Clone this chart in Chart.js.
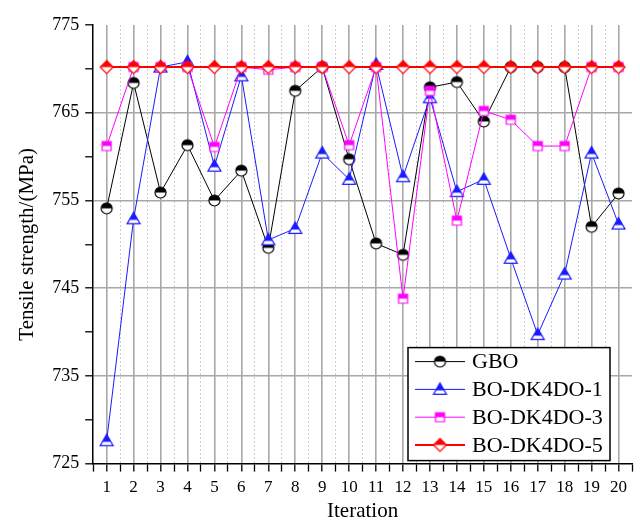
<!DOCTYPE html>
<html>
<head>
<meta charset="utf-8">
<script src="https://cdn.jsdelivr.net/npm/chart.js@4/dist/chart.umd.min.js"></script>
<style>
  body { margin: 0; background: #fff; }
  #wrap { width: 640px; height: 523px; }
</style>
</head>
<body>
<div id="wrap"><canvas id="chart" width="640" height="523"></canvas></div>
<script>
// Iterations on the x axis
const iterations = [1, 2, 3, 4, 5, 6, 7, 8, 9, 10, 11, 12, 13, 14, 15, 16, 17, 18, 19, 20];

// Tensile strength (MPa) per method
const gbo   = [754.1, 768.4, 755.9, 761.3, 755.0, 758.4, 749.6, 767.5, 770.2, 759.7,
               750.1, 748.8, 767.9, 768.5, 764.0, 770.2, 770.2, 770.2, 752.0, 755.8];
const dk4do1 = [727.6, 752.9, 770.2, 770.8, 758.9, 769.2, 750.5, 751.8, 760.4, 757.4,
                770.5, 757.7, 766.7, 756.0, 757.4, 748.4, 739.7, 746.6, 760.4, 752.3];
const dk4do3 = [761.2, 770.2, 770.2, 770.2, 761.1, 770.2, 769.9, 770.2, 770.2, 761.3,
                770.2, 743.8, 767.5, 752.7, 765.2, 764.2, 761.2, 761.2, 770.2, 770.2];
const dk4do5 = [770.2, 770.2, 770.2, 770.2, 770.2, 770.2, 770.2, 770.2, 770.2, 770.2,
                770.2, 770.2, 770.2, 770.2, 770.2, 770.2, 770.2, 770.2, 770.2, 770.2];

const seriesNames = ['GBO', 'BO-DK4DO-1', 'BO-DK4DO-3', 'BO-DK4DO-5'];
const yTickLabels = [725, 735, 745, 755, 765, 775];

const FONT = "'Liberation Serif', 'Times New Roman', serif";

// half filled markers like the Origin plot
function makeMarker(shape, color, r) {
  const size = Math.ceil(r * 2 + 4);
  const c = document.createElement('canvas');
  c.width = size; c.height = size;
  const ctx = c.getContext('2d');
  const cx = size / 2, cy = size / 2;
  function path() {
    ctx.beginPath();
    if (shape === 'circle') {
      ctx.arc(cx, cy, r, 0, Math.PI * 2);
    } else if (shape === 'triangle') {
      ctx.moveTo(cx, cy - r);
      ctx.lineTo(cx + r, cy + r * 0.75);
      ctx.lineTo(cx - r, cy + r * 0.75);
      ctx.closePath();
    } else if (shape === 'square') {
      ctx.rect(cx - r, cy - r, r * 2, r * 2);
    } else {
      ctx.moveTo(cx, cy - r);
      ctx.lineTo(cx + r, cy);
      ctx.lineTo(cx, cy + r);
      ctx.lineTo(cx - r, cy);
      ctx.closePath();
    }
  }
  path();
  ctx.fillStyle = '#fff';
  ctx.fill();
  ctx.save();
  ctx.beginPath();
  ctx.rect(0, 0, size, cy + (shape === 'triangle' ? 1 : 0));
  ctx.clip();
  path();
  ctx.fillStyle = color;
  ctx.fill();
  ctx.restore();
  path();
  ctx.lineWidth = 1.2;
  ctx.strokeStyle = color;
  ctx.stroke();
  return c;
}

const colors = ['#000000', '#1a1aff', '#ff00ff', '#ff0000'];
const markers = [
  makeMarker('circle', colors[0], 5.5),
  makeMarker('triangle', colors[1], 6.5),
  makeMarker('square', colors[2], 4.5),
  makeMarker('diamond', colors[3], 6.5)
];

function toPoints(values) {
  return values.map((v, i) => ({ x: iterations[i], y: v }));
}

const allValues = [gbo, dk4do1, dk4do3, dk4do5];

const datasets = allValues.map((vals, i) => ({
  label: seriesNames[i],
  data: toPoints(vals),
  borderColor: colors[i],
  backgroundColor: colors[i],
  borderWidth: i === 3 ? 2 : 1,
  pointStyle: markers[i],
  pointRadius: 6,
  pointHoverRadius: 6,
  tension: 0,
  order: 3 - i
}));

// legend box inside the plot, bottom right
const boxLegend = {
  id: 'boxLegend',
  afterDatasetsDraw(chart) {
    const ctx = chart.ctx;
    const area = chart.chartArea;
    const w = 202, h = 113;
    const x0 = area.right - 22 - w;
    const y0 = area.bottom - 3 - h;
    ctx.save();
    ctx.fillStyle = '#fff';
    ctx.fillRect(x0, y0, w, h);
    ctx.strokeStyle = '#000';
    ctx.lineWidth = 1.5;
    ctx.strokeRect(x0, y0, w, h);
    ctx.font = '22px ' + FONT;
    ctx.textBaseline = 'middle';
    chart.data.datasets.forEach((ds, i) => {
      const cy = y0 + 14 + i * 27.8;
      const mx = x0 + 32;
      ctx.strokeStyle = ds.borderColor;
      ctx.lineWidth = ds.borderWidth;
      ctx.beginPath();
      ctx.moveTo(mx - 25, cy);
      ctx.lineTo(mx + 25, cy);
      ctx.stroke();
      const m = ds.pointStyle;
      ctx.drawImage(m, mx - m.width / 2, cy - m.height / 2);
      ctx.fillStyle = '#000';
      ctx.fillText(ds.label, x0 + 64, cy + 1);
    });
    ctx.restore();
  }
};

new Chart(document.getElementById('chart'), {
  type: 'line',
  data: { datasets: datasets },
  options: {
    responsive: false,
    devicePixelRatio: 1,
    animation: false,
    layout: { padding: { top: 25, right: 2, left: 15, bottom: 1 } },
    plugins: {
      legend: { display: false },
      tooltip: { enabled: false }
    },
    scales: {
      x: {
        type: 'linear',
        min: 0.5,
        max: 20.5,
        ticks: {
          stepSize: 0.5,
          autoSkip: false,
          maxRotation: 0,
          color: '#000',
          padding: 6,
          font: { family: FONT, size: 17 },
          callback: v => Number.isInteger(v) ? v : ''
        },
        grid: {
          color: ctx => {
            const v = ctx.tick ? ctx.tick.value : null;
            if (v === 0.5 || v === 20.5) return 'rgba(0,0,0,0)';
            return Number.isInteger(v) ? '#a8a8a8' : '#cfcfcf';
          },
          lineWidth: ctx => (ctx.tick && Number.isInteger(ctx.tick.value)) ? 1.6 : 1,
          tickColor: '#000',
          tickLength: 8,
          tickWidth: 1.3
        },
        border: {
          color: '#000',
          width: 1.5,
          dash: ctx => (ctx.tick && !Number.isInteger(ctx.tick.value)) ? [2, 2] : []
        },
        title: {
          display: true,
          text: 'Iteration',
          color: '#000',
          font: { family: FONT, size: 21, lineHeight: 1 },
          padding: { top: -3, bottom: 0 }
        }
      },
      y: {
        min: 725,
        max: 775,
        ticks: {
          stepSize: 5,
          color: '#000',
          padding: 6,
          font: { family: FONT, size: 18 },
          callback: v => yTickLabels.includes(v) ? v : ''
        },
        grid: {
          color: ctx => {
            const v = ctx.tick ? ctx.tick.value : null;
            return (yTickLabels.includes(v) && v !== 775 && v !== 725) ? '#a8a8a8' : 'rgba(0,0,0,0)';
          },
          lineWidth: 1.6,
          tickColor: '#000',
          tickLength: 8,
          tickWidth: 1.3
        },
        border: { color: '#000', width: 1.5 },
        title: {
          display: true,
          text: 'Tensile strength/(MPa)',
          color: '#000',
          font: { family: FONT, size: 21 },
          padding: { top: 0, bottom: 6 }
        }
      }
    }
  },
  plugins: [boxLegend]
});
</script>
</body>
</html>
